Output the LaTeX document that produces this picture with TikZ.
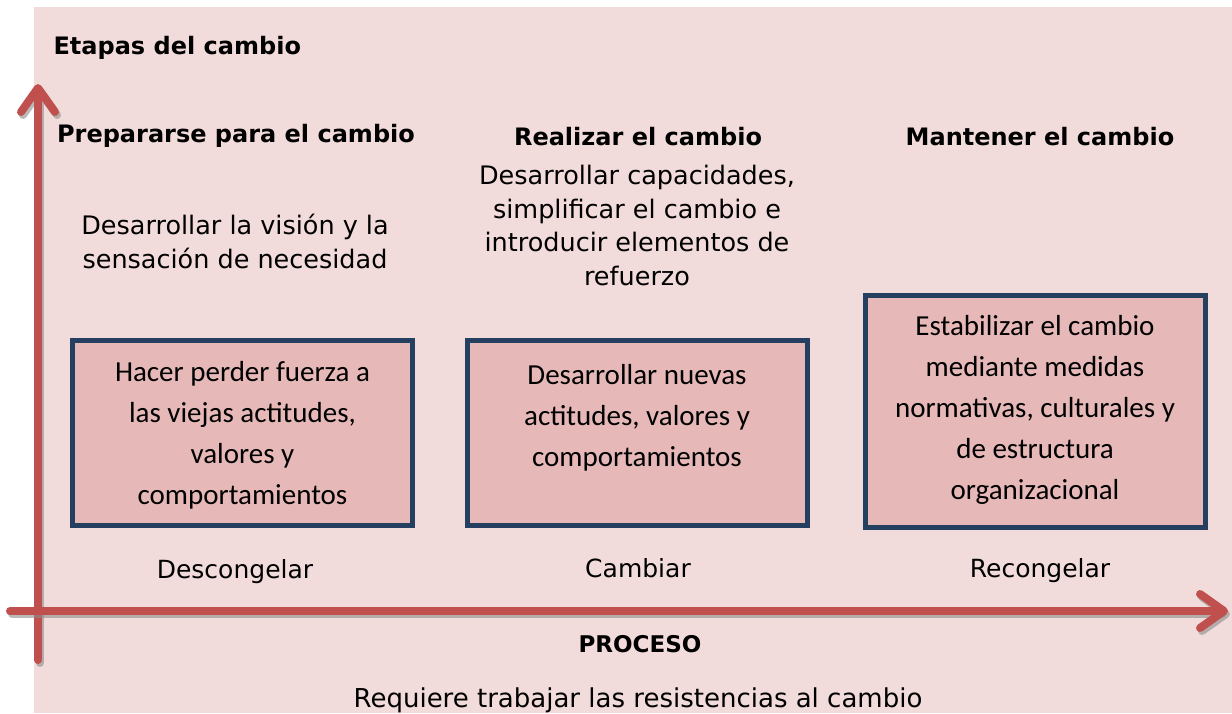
\documentclass[tikz,border=0pt]{standalone}
\usepackage{fontspec}
\setmainfont{DejaVu Sans}
\newfontfamily\boxfont{Carlito}
\usetikzlibrary{arrows.meta, positioning}
\definecolor{bgpink}{HTML}{F2DCDB}
\definecolor{boxpink}{HTML}{E6B9B8}
\definecolor{boxline}{HTML}{243F60}
\definecolor{axisred}{HTML}{C0504D}

\begin{document}
\begin{tikzpicture}[x=1pt, y=-1pt,
    heading/.style={font=\fontsize{24}{28}\selectfont\bfseries, anchor=base},
    desc/.style={font=\fontsize{25.5}{33.5}\selectfont, align=center, anchor=base},
    phase/.style={font=\fontsize{25}{30}\selectfont, anchor=base},
    actbox/.style={draw=boxline, line width=5pt, fill=boxpink, minimum width=340pt, inner sep=0pt},
    boxtext/.style={font=\boxfont\fontsize{29}{41}\selectfont, align=center},
    axis/.style={draw=axisred, line width=8pt, line cap=round,
      -{Straight Barb[length=24pt, width=34pt, round]}},
    axisshadow/.style={axis, draw=black!45, opacity=0.6}]
  \useasboundingbox (0,0) rectangle (1232,713);
  \fill[bgpink] (34,7) rectangle (1232,713);

  % axes
  \coordinate (ybase) at (38,660);
  \coordinate (ytop) at (38,84);
  \coordinate (xbase) at (10,611);
  \coordinate (xtip) at (1228,611);
  \draw[axisshadow] ([shift={(2,3)}]ybase) -- ([shift={(2,3)}]ytop);
  \draw[axis] (ybase) -- (ytop);
  \draw[axisshadow] ([shift={(2,3)}]xbase) -- ([shift={(2,3)}]xtip);
  \draw[axis] (xbase) -- (xtip);

  \node[heading, anchor=base west] (stagesaxis) at (50,54) {Etapas del cambio};

  % three columns (base of a multi-line node = its last line)
  \node[heading] (prepare) at (236,142) {Prepararse para el cambio};
  \node[heading] (perform) at (638,145) {Realizar el cambio};
  \node[heading] (maintain) at (1040,145) {Mantener el cambio};

  \node[desc] (preparedesc) at (235,268) {Desarrollar la visión y la\\sensación de necesidad};
  \node[desc] (performdesc) at (637,285) {Desarrollar capacidades,\\simplificar el cambio e\\introducir elementos de\\refuerzo};

  \node[actbox, minimum height=185pt] (unfreezebox) at (242.5,432.5) {};
  \node[actbox, minimum height=185pt] (changebox) at (637,432.5) {};
  \node[actbox, minimum height=232pt] (refreezebox) at (1035,411) {};

  \node[boxtext] (unfreezetxt) at ([yshift=-3pt]unfreezebox.center) {Hacer perder fuerza a\\las viejas actitudes,\\valores y\\comportamientos};
  \node[boxtext] (changetxt) at ([yshift=15pt]changebox.center) {Desarrollar nuevas\\actitudes, valores y\\comportamientos};
  \node[boxtext] (refreezetxt) at ([yshift=1pt]refreezebox.center) {Estabilizar el cambio\\mediante medidas\\normativas, culturales y\\de estructura\\organizacional};

  \node[phase] (unfreeze) at (235,578) {Descongelar};
  \node[phase] (change) at (638,577) {Cambiar};
  \node[phase] (refreeze) at (1040,577) {Recongelar};

  \node[heading, font=\fontsize{23}{28}\selectfont\bfseries] (process) at (640,652) {PROCESO};
  \node[phase, font=\fontsize{26}{30}\selectfont] (resist) at (638,707) {Requiere trabajar las resistencias al cambio};
\end{tikzpicture}
\end{document}
